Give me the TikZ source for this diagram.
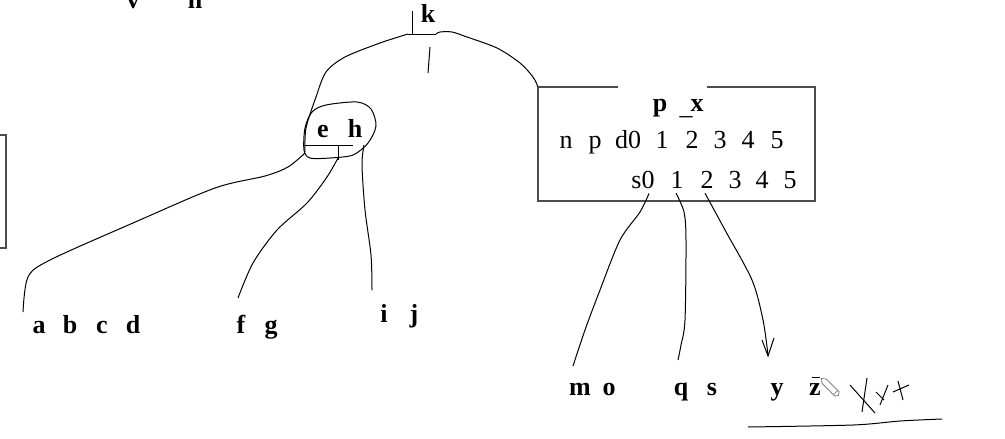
\documentclass[tikz,border=0pt]{standalone}
\usepackage{fontspec}
\setmainfont{Liberation Serif}
\usepackage{tkz-euclide}

\begin{document}
\begin{tikzpicture}[x=1pt,y=-1pt,
  lbl/.style={font=\fontsize{26}{28}\selectfont\bfseries,anchor=base,inner sep=0pt},
  cell/.style={font=\fontsize{26}{28}\selectfont,anchor=base,inner sep=0pt},
  pen/.style={line width=1pt,black},
  frame/.style={line width=1.4pt,black!70}]
 \useasboundingbox (0,0) rectangle (1005,439);
 \tkzDefPoints{538/87/TL,618/87/GL,707/87/GR,815/87/TR,815/201/BR,538/201/BL}
 \tkzDefPoints{0/135/Lt,6/135/Lu,6/248/Ld,0/248/Lb}
 % box with the open top
 \draw[frame] (GL) -- (TL) -- (BL) -- (BR) -- (TR) -- (GR);
 \draw[frame] (Lt) -- (Lu) -- (Ld) -- (Lb);
 % labels
 \node[lbl] (v) at (133,9) {v};
 \node[lbl] (n) at (195,9) {n};
 \node[lbl] (k) at (428,23) {k};
 \node[lbl] (e) at (323,137) {e};
 \node[lbl] (h) at (355,137) {h};
 \foreach \t/\x in {a/39,b/70,c/102,d/133,f/241,g/271}
   \node[lbl] (\t) at (\x,333) {\t};
 \foreach \t/\x in {i/384,j/414}
   \node[lbl] (\t) at (\x,322) {\t};
 \foreach \t/\x in {m/580,o/609,q/681,s/712,y/777,z/815}
   \node[lbl] (\t) at (\x,395) {\t};
 \node[lbl] (px) at (660,111) {p};
 \node[cell] (us) at (686,114) {\_};
 \node[lbl] (xx) at (697,111) {x};
 \foreach \t/\x [count=\i] in {n/566,p/595,d0/628,1/662,2/692,3/720,4/748,5/777}
   \node[cell] (up\i) at (\x,148) {\t};
 \foreach \t/\x [count=\i] in {s0/643,1/677,2/707,3/735,4/762,5/790}
   \node[cell] (lo\i) at (\x,188) {\t};
 % strokes round k
 \tkzDefPoints{412/11/kt,408/34/kl,436/34/kr,430/47/ku,428/73/kd}
 \draw[pen] (kt) -- (412,34);
 \draw[pen] (kl) -- (kr);
 \draw[pen] (ku) -- (kd);
 \draw[pen] plot[smooth] coordinates {(kl) (380,43) (345,57) (326,72) (316,97) (306,128) (305,152)};
 \draw[pen] plot[smooth] coordinates {(kr) (440,32) (452,32) (467,37) (497,48) (520,63) (533,77) (TL)};
 % ring round e h
 \draw[pen] plot[smooth cycle] coordinates {(305,128) (312,112) (326,105) (357,102) (371,109) (376,126) (368,143) (353,155) (330,158) (310,158) (304,150)};
 \draw[pen] (305,145) -- (353,145);
 \draw[pen] (338,145) -- (338,160);
 \draw[pen] plot[smooth] coordinates {(305,153) (288,167) (265,176) (215,188) (133,223) (50,260) (28,277) (23,312)};
 \draw[pen] plot[smooth] coordinates {(338,158) (327,177) (307,203) (277,230) (253,263) (238,298)};
 \draw[pen] plot[smooth] coordinates {(364,145) (362,165) (365,210) (371,255) (372,290)};
 % strokes out of the box
 \draw[pen] plot[smooth] coordinates {([xshift=6pt,yshift=-5pt]lo1.south) (640,212) (620,240) (600,290) (585,330) (573,366)};
 \draw[pen] plot[smooth] coordinates {([xshift=-1pt,yshift=-5pt]lo2.south) (684,212) (686,240) (685,320) (681,345) (678,360)};
 \draw[pen] plot[smooth] coordinates {([xshift=-2pt,yshift=-5pt]lo3.south) (725,230) (752,280) (763,320) (768,355)};
 \draw[pen] (762,340) -- (768,356) -- (774,338);
 % scribbles by y z
 \draw[pen] (812,377) -- (820,377);
 \begin{scope}[shift={(832,389)},rotate=-45,gray,line width=.8pt]
  \draw (-11,-3) -- (7,-3) -- (9,0) -- (7,3) -- (-11,3) -- (-15,0) -- cycle;
  \draw (5,-3) -- (5,3);
 \end{scope}
 \draw[pen] (850,385) -- (875,413);
 \draw[pen] (867,378) -- (862,412);
 \draw[pen] (876,392) -- (884,400) (888,385) -- (880,405);
 \draw[pen] (893,392) -- (909,385) (898,381) -- (903,400);
 \draw[pen] plot[smooth] coordinates {(748,427) (853,425) (900,421) (942,419)};
\end{tikzpicture}
\end{document}
